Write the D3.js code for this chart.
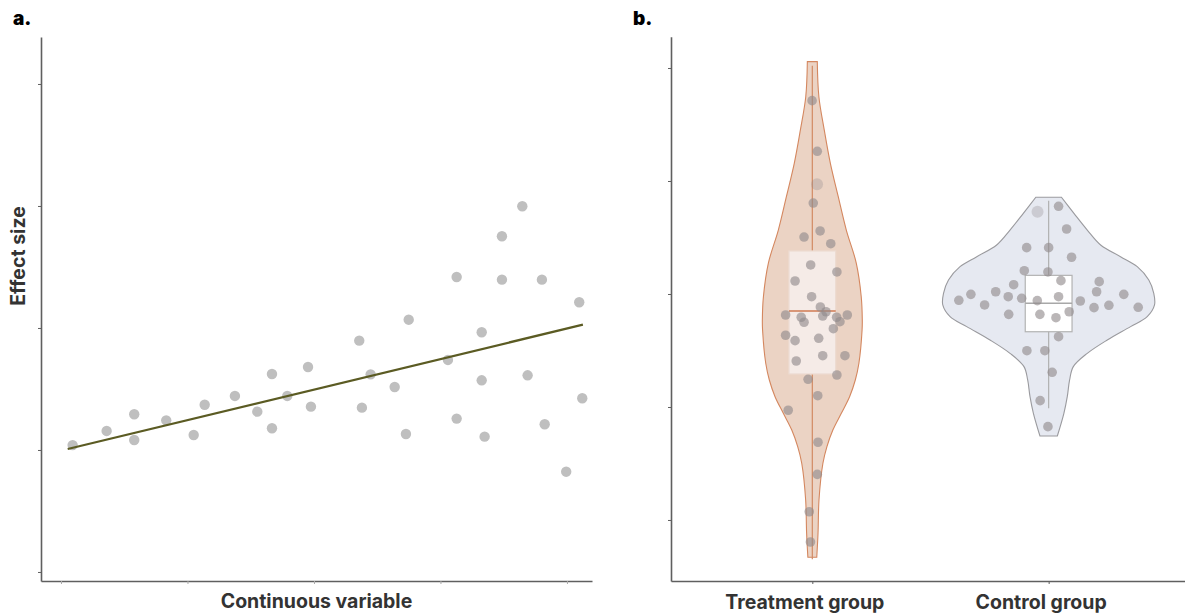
<!DOCTYPE html>
<html>
<head>
<meta charset="utf-8">
<script src="https://cdn.jsdelivr.net/npm/d3@7"></script>
<style>
  body { margin: 0; background: #fff; }
  text { font-family: Inter, "Liberation Sans", sans-serif; }
</style>
</head>
<body>
<svg id="chart"></svg>
<script>
// ---- panel a data ----
var contX = [0.92, 3.61, 5.79, 5.79, 8.32, 10.49, 11.36, 13.75, 15.52, 16.68, 16.68, 17.89,
  19.53, 19.76, 23.58, 24.48, 23.79, 26.38, 27.49, 27.27, 30.59, 31.28, 31.28, 33.26,
  33.26, 33.49, 34.86, 34.86, 36.47, 36.89, 38.02, 38.24, 39.94, 40.97, 41.21]
var effectA = [1.04, 1.156, 1.293, 1.082, 1.243, 1.123, 1.371, 1.443, 1.314, 1.623, 1.178, 1.443,
  1.68, 1.355, 1.896, 1.62, 1.347, 1.516, 2.068, 1.131, 1.738, 2.418, 1.257, 1.965,
  1.571, 1.109, 2.752, 2.396, 2.998, 1.612, 2.396, 1.211, 0.822, 2.211, 1.424]
var fitX = [0.53, 41.26]
var fitY = [1.008, 2.027]
var xTicksA = [0, 10, 20, 30, 40]
var yTicksA = [0, 1, 2, 3, 4]

// ---- panel b data ----
var groups = ["Treatment group", "Control group"]
var yTicksB = [-2, -1, 0, 1, 2]

var treatJitter = [-0.001, 0.021, 0.020, 0.004, 0.033, -0.035, 0.078, -0.007, 0.104, -0.073, -0.003, 0.034,
  0.058, -0.113, -0.047, 0.044, 0.103, 0.148, -0.035, 0.117, 0.089, -0.113, -0.073, 0.027,
  -0.068, 0.044, 0.138, 0.104, -0.018, 0.023, -0.102, 0.024, 0.021, -0.013, -0.008]
var treatValues = [1.711, 1.263, 0.971, 0.805, 0.558, 0.504, 0.445, 0.257, 0.195, 0.115, -0.024, -0.115,
  -0.157, -0.186, -0.206, -0.195, -0.206, -0.186, -0.25, -0.245, -0.307, -0.365, -0.413, -0.392,
  -0.593, -0.546, -0.546, -0.717, -0.755, -0.9, -1.029, -1.312, -1.596, -1.927, -2.195]
var controlJitter = [-0.047, 0.042, 0.076, -0.093, 0, 0.097, -0.103, -0.003, 0.052, 0.214, -0.148, -0.224,
  -0.329, -0.38, -0.271, -0.171, -0.114, -0.048, 0.042, 0.203, 0.318, 0.379, 0.134, 0.192,
  0.255, -0.169, -0.037, 0.031, 0.087, 0.042, -0.092, -0.016, 0.015, -0.036, -0.003]
var controlValues = [0.728, 0.776, 0.575, 0.41, 0.41, 0.325, 0.206, 0.195, 0.118, 0.109, 0.082, 0.02,
  -0.003, -0.056, -0.097, -0.024, -0.038, -0.059, -0.024, 0.02, -0.003, -0.118, -0.062, -0.121,
  -0.1, -0.18, -0.18, -0.21, -0.157, -0.378, -0.502, -0.502, -0.693, -0.944, -1.174]
// index of the larger faint dot in each group
var bigDot = [2, 0]

// violin outlines: value, relative density
var treatProfileV = [2.056, 1.746, 1.451, 1.159, 0.861, 0.566, 0.274, -0.024, -0.23, -0.319, -0.613,
  -0.761, -0.909, -1.056, -1.204, -1.351, -1.498, -1.823, -2.115, -2.33]
var treatProfileD = [0.047, 0.062, 0.113, 0.17, 0.245, 0.321, 0.415, 0.462, 0.472, 0.47, 0.44,
  0.406, 0.352, 0.274, 0.194, 0.138, 0.1, 0.063, 0.054, 0.042]
var controlProfileV = [0.856, 0.714, 0.566, 0.434, 0.33, 0.242, 0.124, 0.006, -0.097, -0.201, -0.289,
  -0.407, -0.525, -0.643, -0.761, -0.909, -1.056, -1.257]
var controlProfileD = [0.121, 0.239, 0.365, 0.491, 0.679, 0.837, 0.946, 0.993, 1.0, 0.931, 0.774,
  0.554, 0.365, 0.233, 0.198, 0.176, 0.144, 0.082]

// box stats: whisker low, q1, median, q3, whisker high
var treatBox = [-2.348, -0.708, -0.15, 0.381, 2.02]
var controlBox = [-1.012, -0.334, -0.082, 0.165, 0.826]

var svg = d3.select("#chart").attr("width", 1185).attr("height", 616)

var axisColor = "#5f5f5f"
var labelColor = "#333"
var labelSize = 19.5

function styleAxis(g) {
  g.select(".domain").attr("stroke", axisColor).attr("stroke-width", 1.6)
  g.selectAll(".tick line").attr("stroke", axisColor).attr("stroke-width", 1)
}

// ================= panel a =================
var xA = d3.scaleLinear().domain([-1.58, 41.98]).range([41, 592])
var yA = d3.scaleLinear().domain([-0.074, 4.385]).range([581, 37])

var gA = svg.append("g")

gA.append("g")
  .attr("transform", "translate(41,0)")
  .call(d3.axisLeft(yA).tickValues(yTicksA).tickSize(3).tickSizeOuter(0).tickFormat(""))
  .call(styleAxis)

gA.append("g")
  .attr("transform", "translate(0,581)")
  .call(d3.axisBottom(xA).tickValues(xTicksA).tickSize(3).tickSizeOuter(0).tickFormat(""))
  .call(styleAxis)
  .call(function(g){ g.selectAll(".tick line").attr("stroke", "#aaa") })

gA.selectAll("circle.pt")
  .data(contX)
  .enter()
  .append("circle")
  .attr("class", "pt")
  .attr("cx", function(d){ return xA(d) })
  .attr("cy", function(d, i){ return yA(effectA[i]) })
  .attr("r", 5.2)
  .attr("fill", "#bfbfbf")

var fitLine = d3.line()
  .x(function(d){ return xA(d) })
  .y(function(d, i){ return yA(fitY[i]) })

gA.append("path")
  .datum(fitX)
  .attr("d", fitLine)
  .attr("fill", "none")
  .attr("stroke", "#5b5b23")
  .attr("stroke-width", 2.2)

gA.append("text")
  .attr("x", 316.5).attr("y", 608)
  .attr("text-anchor", "middle")
  .attr("font-size", labelSize).attr("font-weight", 700)
  .attr("fill", labelColor)
  .text("Continuous variable")

gA.append("text")
  .attr("transform", "translate(25,256) rotate(-90)")
  .attr("text-anchor", "middle")
  .attr("font-size", labelSize).attr("font-weight", 700)
  .attr("fill", labelColor)
  .text("Effect size")

svg.append("text")
  .attr("x", 13).attr("y", 25)
  .attr("font-size", 19).attr("font-weight", 900)
  .attr("fill", "#000")
  .text("a.")

// ================= panel b =================
var xB = d3.scaleLinear().domain([-0.598, 1.577]).range([671, 1185])
var yB = d3.scaleLinear().domain([-2.54, 2.277]).range([581, 36.7])
var violinW = d3.scaleLinear().domain([0, 1]).range([0, 0.448])
var boxHalf = 0.099

var gB = svg.append("g")

gB.append("g")
  .attr("transform", "translate(671,0)")
  .call(d3.axisLeft(yB).tickValues(yTicksB).tickSize(3).tickSizeOuter(0).tickFormat(""))
  .call(styleAxis)

var groupStyles = [
  { fill: "#ebd3c4", stroke: "#d4875f", boxFill: "#f5ebe7", boxStroke: "#ecdad0", median: "#cf7a52", whisker: "#d28a64" },
  { fill: "#e6e9f1", stroke: "#9a9a9e", boxFill: "#ffffff", boxStroke: "#b3b3b3", median: "#a8a8a8", whisker: "#b0b0b0" }
]

var profiles = [
  treatProfileV.map(function(v, i){ return { v: v, d: treatProfileD[i] } }),
  controlProfileV.map(function(v, i){ return { v: v, d: controlProfileD[i] } })
]
var boxes = [treatBox, controlBox]
var jitters = [treatJitter, controlJitter]
var values = [treatValues, controlValues]

groups.forEach(function(name, gi) {
  var st = groupStyles[gi]
  var area = d3.area()
    .y(function(d){ return yB(d.v) })
    .x0(function(d){ return xB(gi - violinW(d.d)) })
    .x1(function(d){ return xB(gi + violinW(d.d)) })
    .curve(d3.curveCatmullRom)

  gB.append("path")
    .datum(profiles[gi])
    .attr("d", area)
    .attr("fill", st.fill)
    .attr("stroke", st.stroke)
    .attr("stroke-width", 1.1)

  var b = boxes[gi]
  gB.append("line")
    .attr("x1", xB(gi)).attr("x2", xB(gi))
    .attr("y1", yB(b[4])).attr("y2", yB(b[0]))
    .attr("stroke", st.whisker).attr("stroke-width", 1.2)

  gB.append("rect")
    .attr("x", xB(gi - boxHalf))
    .attr("width", xB(gi + boxHalf) - xB(gi - boxHalf))
    .attr("y", yB(b[3]))
    .attr("height", yB(b[1]) - yB(b[3]))
    .attr("fill", st.boxFill)
    .attr("stroke", st.boxStroke)
    .attr("stroke-width", 1.2)

  gB.append("line")
    .attr("x1", xB(gi - boxHalf)).attr("x2", xB(gi + boxHalf))
    .attr("y1", yB(b[2])).attr("y2", yB(b[2]))
    .attr("stroke", st.median).attr("stroke-width", 1.4)

  gB.selectAll("circle.g" + gi)
    .data(values[gi])
    .enter()
    .append("circle")
    .attr("class", "g" + gi)
    .attr("cx", function(d, i){ return xB(gi + jitters[gi][i]) })
    .attr("cy", function(d){ return yB(d) })
    .attr("r", function(d, i){ return i === bigDot[gi] ? 6 : 4.8 })
    .attr("fill", "#8f898b")
    .attr("fill-opacity", function(d, i){ return i === bigDot[gi] ? 0.3 : 0.62 })
})

gB.append("g")
  .attr("transform", "translate(0,581)")
  .call(d3.axisBottom(xB).tickValues([0, 1]).tickSize(3).tickSizeOuter(0).tickPadding(11)
    .tickFormat(function(d){ return groups[d] }))
  .call(styleAxis)
  .call(function(g){
    g.selectAll(".tick text")
      .attr("font-size", labelSize).attr("font-weight", 700)
      .attr("fill", labelColor)
      .attr("dx", -8)
      .attr("font-family", "Inter, 'Liberation Sans', sans-serif")
  })

svg.append("text")
  .attr("x", 633).attr("y", 25)
  .attr("font-size", 19).attr("font-weight", 900)
  .attr("fill", "#000")
  .text("b.")
</script>
</body>
</html>
